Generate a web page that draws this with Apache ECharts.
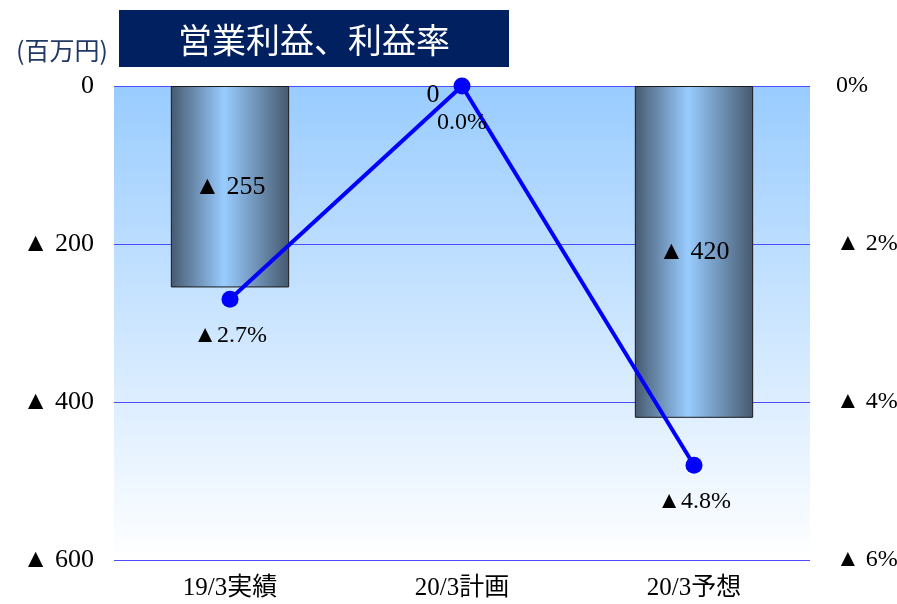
<!DOCTYPE html>
<html>
<head>
<meta charset="utf-8">
<script src="https://cdn.jsdelivr.net/npm/echarts@6/dist/echarts.min.js"></script>
<style>
html,body{margin:0;padding:0;background:#fff;}
#c{width:897px;height:604px;}
</style>
</head>
<body>
<div id="c"></div>
<script>
const categories = ['19/3実績', '20/3計画', '20/3予想'];
const operatingProfit = [-255, 0, -420];   // 百万円 (▲ = negative)
const profitRate = [-2.7, 0.0, -4.8];      // %
const leftTicks = { min: -600, max: 0, interval: 200 };
const rightTicks = { min: -6, max: 0, interval: 2 };

const serif = '"Liberation Serif", "Noto Sans CJK JP", serif';
const chart = echarts.init(document.getElementById('c'), null, { renderer: 'canvas' });

function tri(v) { return v < 0 ? '▲ ' + (-v) : String(Math.abs(v)); }

const barData = operatingProfit.map(function (v) {
  if (v === 0) {
    return { value: v, itemStyle: { borderWidth: 0 }, label: { position: 'inside', offset: [-29, 9] } };
  }
  return v;
});

const option = {
  animation: false,
  grid: {
    left: 114, right: 87, top: 86, bottom: 44,
    outerBoundsMode: 'none', containLabel: false,
    show: true, borderWidth: 0,
    backgroundColor: new echarts.graphic.LinearGradient(0, 0, 0, 1, [
      { offset: 0, color: '#99ccff' },
      { offset: 1, color: '#ffffff' }
    ])
  },
  graphic: [
    { type: 'rect', shape: { x: 119, y: 10, width: 390, height: 57 },
      style: { fill: '#002060' }, z: 10 },
    { type: 'text', x: 314, y: 40, z: 11,
      style: { text: '営業利益、利益率', fill: '#ffffff', align: 'center', verticalAlign: 'middle',
        font: '34px "Noto Sans CJK JP", sans-serif' } },
    { type: 'text', x: 62, y: 50, z: 11,
      style: { text: '(百万円)', fill: '#1f3864', align: 'center', verticalAlign: 'middle',
        font: '25px "Noto Sans CJK JP", serif' } }
  ],
  xAxis: {
    type: 'category', data: categories,
    axisLine: { show: false }, axisTick: { show: false },
    axisLabel: { color: '#000', fontSize: 25, fontFamily: serif, margin: 16 }
  },
  yAxis: [
    {
      type: 'value', min: leftTicks.min, max: leftTicks.max, interval: leftTicks.interval,
      axisLine: { show: false }, axisTick: { show: false },
      splitLine: { lineStyle: { color: '#4d4dff', width: 1 } },
      axisLabel: { color: '#000', fontSize: 26, fontFamily: serif, margin: 20, formatter: tri }
    },
    {
      type: 'value', min: rightTicks.min, max: rightTicks.max, interval: rightTicks.interval,
      axisLine: { show: false }, axisTick: { show: false }, splitLine: { show: false },
      axisLabel: { color: '#000', fontSize: 24, fontFamily: serif, margin: 26,
        formatter: function (v) { return v < 0 ? '▲ ' + (-v) + '%' : '0%'; } }
    }
  ],
  series: [
    {
      type: 'bar', data: barData, barWidth: '51%', yAxisIndex: 0,
      itemStyle: {
        borderColor: '#1a1a1a', borderWidth: 1,
        color: new echarts.graphic.LinearGradient(0, 0, 1, 0, [
          { offset: 0, color: '#46596f' },
          { offset: 0.45, color: '#99ccff' },
          { offset: 1, color: '#46596f' }
        ])
      },
      label: { show: true, position: 'inside', color: '#000', fontSize: 26, fontFamily: serif,
        formatter: function (p) { return tri(p.value); } },
      z: 2
    },
    {
      type: 'line', data: profitRate, yAxisIndex: 1,
      lineStyle: { color: '#0000ff', width: 4 },
      itemStyle: { color: '#0000ff' },
      symbol: 'circle', symbolSize: 17,
      label: { show: true, position: 'bottom', distance: 16, color: '#000', fontSize: 24, fontFamily: serif,
        formatter: function (p) { return p.value < 0 ? '▲' + (-p.value).toFixed(1) + '%' : '0.0%'; } },
      z: 5
    }
  ]
};
chart.setOption(option);
</script>
</body>
</html>
